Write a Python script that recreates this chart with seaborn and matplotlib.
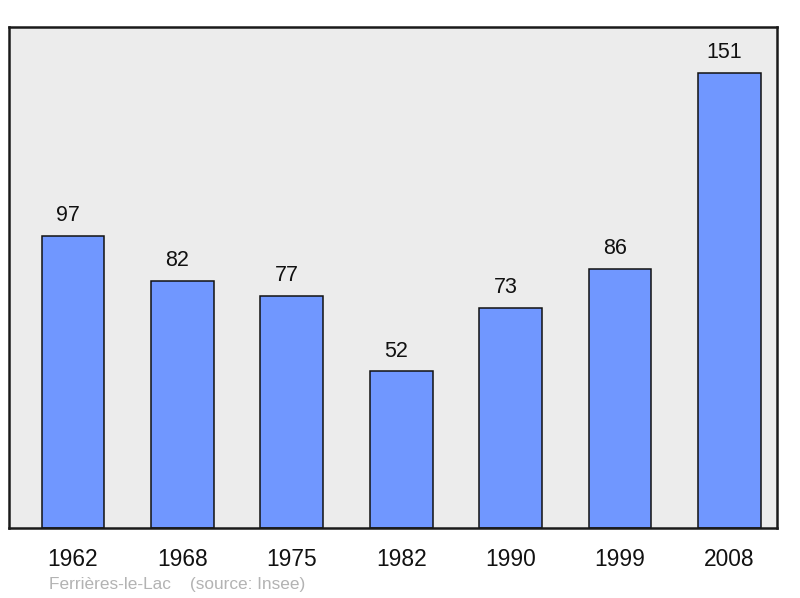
import matplotlib
matplotlib.use("Agg")
import matplotlib.pyplot as plt
import seaborn as sns
import pandas as pd

years = ["1962", "1968", "1975", "1982", "1990", "1999", "2008"]
population = [97, 82, 77, 52, 73, 86, 151]
commune = "Ferrières-le-Lac"
source = "(source: Insee)"

sns.set_theme(style="white")
plt.rcParams["font.family"] = ["Liberation Sans", "DejaVu Sans"]

df = pd.DataFrame({"year": years, "pop": population})

fig = plt.figure(figsize=(8, 5.98), dpi=100)
ax = fig.add_axes([9 / 800, 1 - 528 / 598, 768 / 800, 501 / 598])
ax.set_facecolor("#ececec")

sns.barplot(data=df, x="year", y="pop", color="#7097ff", saturation=1,
            width=0.575, edgecolor="#111111", linewidth=1.1, ax=ax)

# value labels, a little left of the bar centre like the original
for i, v in enumerate(population):
    ax.annotate(str(v), (i, v), xytext=(-3.5, 7), textcoords="offset points",
                ha="center", va="bottom", fontsize=15.5, color="#111111")

ax.set_xlim(-0.585, 6.435)
ax.set_ylim(0, 166.3)
ax.set_yticks([])
ax.set_xlabel("")
ax.set_ylabel("")
ax.tick_params(axis="x", length=0, pad=14.5, labelsize=16.4, labelcolor="#111111")
for s in ax.spines.values():
    s.set_visible(True)
    s.set_color("#1a1a1a")
    s.set_linewidth(1.8)

fig.text(49 / 800, 1 - 584 / 598, commune + "    " + source,
         fontsize=12.4, color="#b3b3b3", ha="left", va="center")

fig.savefig("out.png", dpi=100)
